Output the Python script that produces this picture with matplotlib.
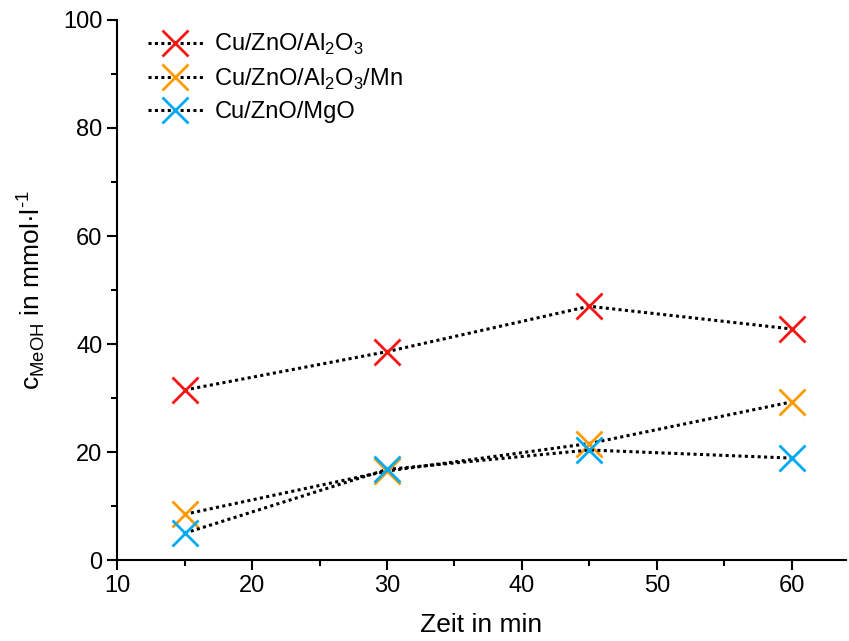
import matplotlib
matplotlib.use('Agg')
import matplotlib.pyplot as plt
from matplotlib.ticker import MultipleLocator

plt.rcParams['font.family'] = ['Liberation Sans', 'DejaVu Sans']
plt.rcParams['mathtext.fontset'] = 'custom'
plt.rcParams['mathtext.rm'] = 'Liberation Sans'

zeit = [15, 30, 45, 60]
al2o3 = [31.5, 38.6, 47.0, 42.8]
al2o3_mn = [8.5, 16.5, 21.6, 29.3]
mgo = [5.0, 16.8, 20.4, 18.9]

labels = [r'Cu/ZnO/Al$_\mathregular{2}$O$_\mathregular{3}$',
          r'Cu/ZnO/Al$_\mathregular{2}$O$_\mathregular{3}$/Mn',
          'Cu/ZnO/MgO']
colors = ['#f51515', '#ff9a00', '#00aaf0']

fig = plt.figure(figsize=(8.49, 6.41), dpi=100)
ax = fig.add_axes([0.138, 0.126, 0.858, 0.843])

for y, lab, c in zip([al2o3, al2o3_mn, mgo], labels, colors):
    ax.plot(zeit, y, color='black', linestyle=(0, (1, 1.1)), linewidth=2.2,
            marker='x', markersize=19, markeredgewidth=2,
            markeredgecolor=c, label=lab)

ax.set_xlim(10, 64)
ax.set_ylim(0, 100)
ax.xaxis.set_major_locator(MultipleLocator(10))
ax.xaxis.set_minor_locator(MultipleLocator(5))
ax.yaxis.set_major_locator(MultipleLocator(20))
ax.yaxis.set_minor_locator(MultipleLocator(10))
ax.spines['top'].set_visible(False)
ax.spines['right'].set_visible(False)
for s in ['left', 'bottom']:
    ax.spines[s].set_linewidth(1.5)
ax.tick_params(which='major', length=7, width=1.5, labelsize=17)
ax.tick_params(which='minor', length=4, width=1.5)

ax.set_xlabel('Zeit in min', fontsize=19, labelpad=12)
ax.set_ylabel(r'c$_\mathregular{MeOH}$ in mmol·l$^\mathregular{\text{-}1}$', fontsize=19, labelpad=12)

ax.legend(loc='upper left', bbox_to_anchor=(0.02, 1.008), frameon=False, fontsize=17,
          handlelength=2.3, handletextpad=0.5, labelspacing=0.4, borderaxespad=0.3)

fig.savefig('out.png', dpi=100)
